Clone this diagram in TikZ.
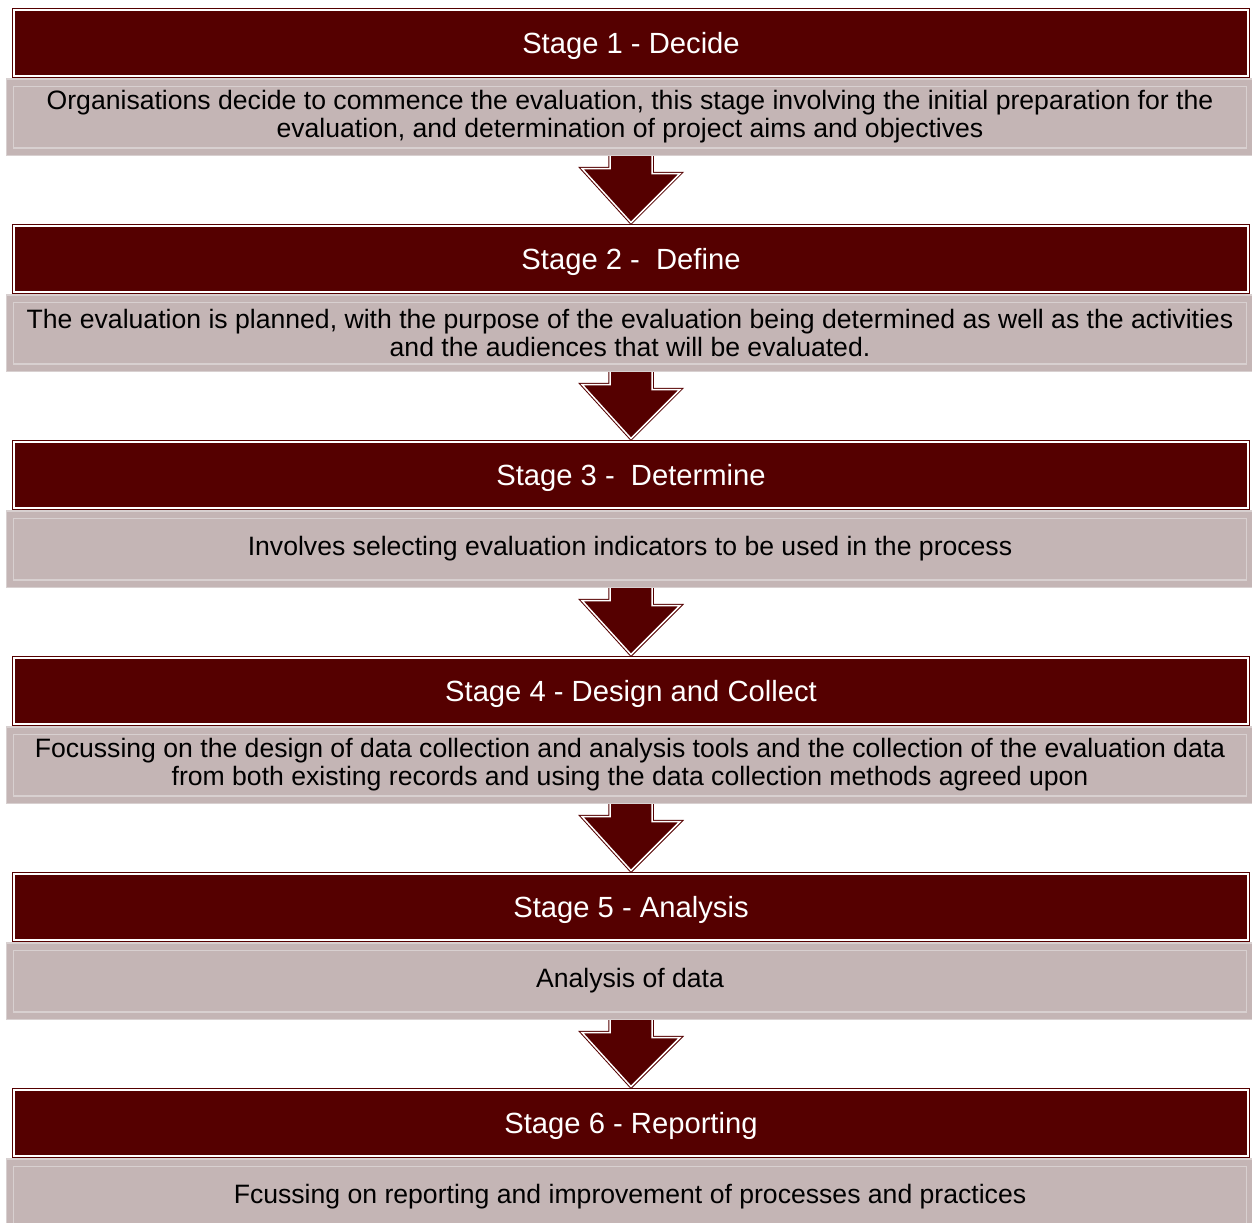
\documentclass[tikz,border=0pt]{standalone}
\usepackage{fontspec}
\setmainfont{Liberation Sans}
\usetikzlibrary{calc,shadows}
\definecolor{hdrred}{HTML}{550000}
\definecolor{descgray}{HTML}{C4B5B5}
\definecolor{descedge}{HTML}{D8D0D0}
\definecolor{descshadow}{HTML}{D3CECE}
\newcommand{\hdrfont}{\fontsize{14.6}{17}\selectfont}
\newcommand{\descfont}{\fontsize{13.3}{14}\selectfont}
\tikzset{
  stagehdr/.style={draw=hdrred, double=white, double distance=0.75pt, line width=0.5pt,
    fill=hdrred, text=white, minimum width=617pt, minimum height=33pt, font=\hdrfont,
    text height=13.6pt, text depth=3.1pt},
  stagedesc/.style={draw=descedge, double=descgray, double distance=3pt, line width=0.6pt,
    fill=descgray, minimum width=620pt, minimum height=34.5pt, align=center, font=\descfont,
    drop shadow={shadow xshift=-2pt, shadow yshift=-1.2pt, fill=descshadow, opacity=1}},
  stagearrow/.style={draw=hdrred, double=white, double distance=0.75pt, line width=0.5pt,
    fill=hdrred, line join=miter}
}

\begin{document}
\begin{tikzpicture}[x=0.5pt,y=-0.5pt]
\useasboundingbox (0,0) rectangle (1252,1222);

\node[stagehdr] (hdr1) at (631,43) {Stage 1 - Decide};
\node[stagehdr] (hdr2) at (631,259) {Stage 2 -~ Define};
\node[stagehdr] (hdr3) at (631,475) {Stage 3 -~ Determine};
\node[stagehdr] (hdr4) at (631,691) {Stage 4 - Design and Collect};
\node[stagehdr] (hdr5) at (631,907) {Stage 5 - Analysis};
\node[stagehdr] (hdr6) at (631,1123) {Stage 6 - Reporting};

%arrows between the stages
\draw[stagearrow] ($(hdr1.south)+(-21,67)$) -- ++(0,25) -- ++(-28,0) -- ($(hdr2.north)+(0,-3)$) -- ++(49,-49) -- ++(-28,0) -- ++(0,-25) -- cycle;
\draw[stagearrow] ($(hdr2.south)+(-21,67)$) -- ++(0,25) -- ++(-28,0) -- ($(hdr3.north)+(0,-3)$) -- ++(49,-49) -- ++(-28,0) -- ++(0,-25) -- cycle;
\draw[stagearrow] ($(hdr3.south)+(-21,67)$) -- ++(0,25) -- ++(-28,0) -- ($(hdr4.north)+(0,-3)$) -- ++(49,-49) -- ++(-28,0) -- ++(0,-25) -- cycle;
\draw[stagearrow] ($(hdr4.south)+(-21,67)$) -- ++(0,25) -- ++(-28,0) -- ($(hdr5.north)+(0,-3)$) -- ++(49,-49) -- ++(-28,0) -- ++(0,-25) -- cycle;
\draw[stagearrow] ($(hdr5.south)+(-21,67)$) -- ++(0,25) -- ++(-28,0) -- ($(hdr6.north)+(0,-3)$) -- ++(49,-49) -- ++(-28,0) -- ++(0,-25) -- cycle;

\node[stagedesc] (desc1) at (630,117) {Organisations decide to commence the evaluation, this stage involving the initial preparation for the\\evaluation, and determination of project aims and objectives};
\node[stagedesc] (desc2) at (630,333) {The evaluation is planned, with the purpose of the evaluation being determined as well as the activities\\and the audiences that will be evaluated.};
\node[stagedesc] (desc3) at (630,549) {Involves selecting evaluation indicators to be used in the process};
\node[stagedesc] (desc4) at (630,765) {Focussing on the design of data collection and analysis tools and the collection of the evaluation data\\from both existing records and using the data collection methods agreed upon};
\node[stagedesc] (desc5) at (630,981) {Analysis of data};
\node[stagedesc] (desc6) at (630,1197) {Fcussing on reporting and improvement of processes and practices};

\end{tikzpicture}
\end{document}
